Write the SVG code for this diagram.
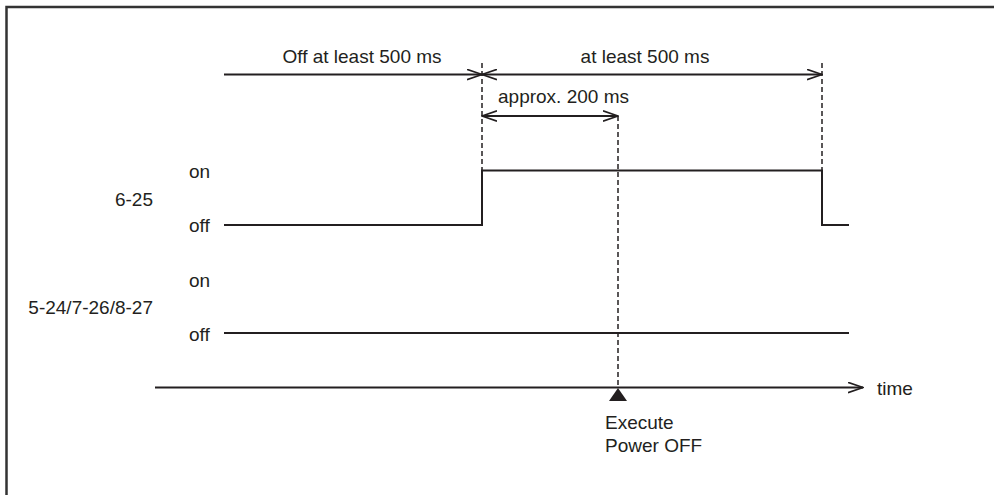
<svg xmlns="http://www.w3.org/2000/svg" width="994" height="495" viewBox="0 0 994 495">
<style>
text{font-family:"Liberation Sans",Arial,sans-serif;font-size:19px;fill:#231f20}
.ln{stroke:#231f20;stroke-width:2;fill:none}
.dash{stroke:#231f20;stroke-width:1.5;fill:none;stroke-dasharray:5 3}
.border{stroke:#333;stroke-width:2.5;fill:none}
</style>
<defs>
<marker id="arr" markerWidth="16" markerHeight="12" refX="15" refY="6" orient="auto-start-reverse" markerUnits="userSpaceOnUse">
<path d="M0,0.8 L15,6 L0,11.2" fill="none" stroke="#231f20" stroke-width="1.6"/>
</marker>
</defs>
<rect width="994" height="495" fill="#fff"/>
<path class="border" d="M6.5,495 V7 H994"/>
<g id="connectors">
<path class="ln" d="M224,74.5 H482" marker-end="url(#arr)"/>
<path class="ln" d="M482,74.5 H822" marker-start="url(#arr)" marker-end="url(#arr)"/>
<path class="ln" d="M482,116 H618" marker-start="url(#arr)" marker-end="url(#arr)"/>
<path class="dash" d="M482,63 V170"/>
<path class="dash" d="M822,63 V170"/>
<path class="dash" d="M618,116 V388"/>
<path class="ln" d="M155,387.5 H863" marker-end="url(#arr)"/>
<polygon points="618,388 609,401 627,401" fill="#231f20"/>
</g>
<g id="signal-6-25">
<path class="ln" d="M224,225 H482 V170.5 H822 V225 H849"/>
<text x="153" y="205.5" text-anchor="end">6-25</text>
<text x="189" y="178">on</text>
<text x="189" y="232">off</text>
</g>
<g id="signal-5-24">
<path class="ln" d="M224,333 H849"/>
<text x="153" y="314" text-anchor="end">5-24/7-26/8-27</text>
<text x="189" y="287">on</text>
<text x="189" y="340.5">off</text>
</g>
<g id="labels">
<text x="362" y="62.5" text-anchor="middle">Off at least 500 ms</text>
<text x="645" y="62.5" text-anchor="middle">at least 500 ms</text>
<text x="498" y="102.5">approx. 200 ms</text>
<text x="877" y="395">time</text>
<text x="605" y="429">Execute</text>
<text x="605" y="452">Power OFF</text>
</g>
</svg>
